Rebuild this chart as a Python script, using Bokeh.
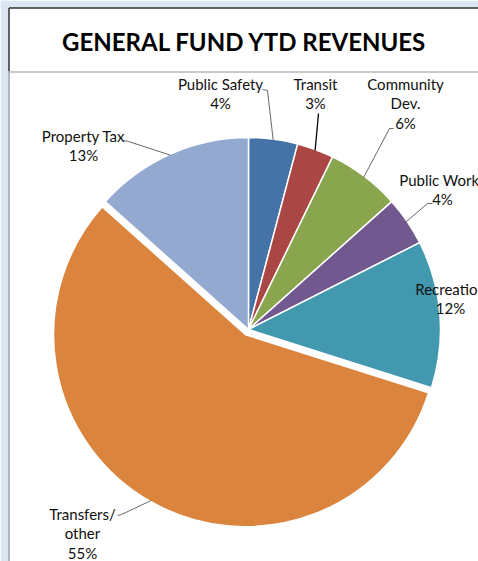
import math
from bokeh.plotting import figure
from bokeh.models import Range1d
from bokeh.embed import file_html
from bokeh.resources import INLINE
from bokeh.core.properties import value

# ---- data ----
title = "GENERAL FUND YTD REVENUES"
categories = ["Public Safety", "Transit", "Community Dev.", "Public Works",
              "Recreation", "Transfers/ other", "Property Tax"]
label_lines = [["Public Safety"], ["Transit"], ["Community", "Dev."],
               ["Public Works"], ["Recreation"], ["Transfers/", "other"],
               ["Property Tax"]]
percent = [4, 3, 6, 4, 12, 55, 13]
colors = ["#4572a7", "#aa4643", "#89a54e", "#71588f", "#4198af", "#db843d", "#93a9cf"]

# ---- layout (pixels, y measured from top) ----
W, H = 478, 561
def Y(py):
    return H - py

CX, CY, R = 248, 329, 192
EXPLODE = [0, 0, 0, 0, 0, 6, 0]
# label anchor: centre x, first line centre y
label_pos = [(220, 83), (315, 83), (405, 83), (442, 179), (450, 288), (82, 513), (83, 135)]
# leader line start points (pixels), None for no leader
leader_start = [[(262, 89), (267, 90)], [(318, 113)], [(393, 128), (389, 128)],
                [(432, 203), (427, 203)], None, [(117, 515), (121, 514)],
                [(123, 140), (128, 141)]]
LINE_H = 19.5
FONT = "Lato"

p = figure(width=W, height=H, x_range=Range1d(0, W), y_range=Range1d(0, H),
           output_backend="svg", toolbar_location=None, min_border=0,
           x_axis_type=None, y_axis_type=None)
p.grid.visible = False
p.outline_line_color = None
p.background_fill_color = "white"
p.border_fill_color = "white"

# outer frame
bg = "#dce6f2"
p.quad(left=[0, 0], right=[8, W], bottom=[0, Y(7)], top=[H, H], fill_color=bg, line_color=None)
p.line(x=[8.5, W], y=[Y(7.5), Y(7.5)], line_color="#2b2f36", line_width=1.5)
p.line(x=[8.5, 8.5], y=[Y(7.5), Y(71)], line_color="#2b2f36", line_width=1.5)
p.line(x=[8.5, 8.5], y=[Y(71), 0], line_color="#9aa0a8", line_width=1.5)
p.line(x=[9, W], y=[Y(71.5), Y(71.5)], line_color="#b8b8b8", line_width=1.5)

# title
p.text(x=[244], y=[Y(41)], text=[title], text_font=value(FONT), text_font_style="bold",
       text_font_size="24px", text_align="center", text_baseline="middle", text_color="#000000")

# pie
total = float(sum(percent))
cum = 0.0
xs, ys, sa, ea, mids = [], [], [], [], []
for i, v in enumerate(percent):
    f0 = cum / total
    f1 = (cum + v) / total
    fm = (f0 + f1) / 2
    cum += v
    a0 = math.pi / 2 - 2 * math.pi * f0
    a1 = math.pi / 2 - 2 * math.pi * f1
    am = math.pi / 2 - 2 * math.pi * fm
    ox = EXPLODE[i] * math.cos(am)
    oy = EXPLODE[i] * math.sin(am)
    xs.append(CX + ox)
    ys.append(Y(CY) + oy)
    sa.append(a0)
    ea.append(a1)
    mids.append(am)

p.wedge(x=xs, y=ys, radius=R, start_angle=sa, end_angle=ea, direction="clock",
        fill_color=colors, line_color="white", line_width=1.5)

# leader lines
for i, st in enumerate(leader_start):
    if st is None:
        continue
    ex = xs[i] + (R - 1) * math.cos(mids[i])
    ey = ys[i] + (R - 1) * math.sin(mids[i])
    lx = [pt[0] for pt in st] + [ex]
    ly = [Y(pt[1]) for pt in st] + [ey]
    if i == 1:
        p.line(x=lx, y=ly, line_color="#000000", line_width=1.3)
    else:
        p.line(x=lx, y=ly, line_color="#404040", line_width=0.8)

# labels
tx, ty, tt = [], [], []
for i, lines in enumerate(label_lines):
    x0, y0 = label_pos[i]
    allines = lines + [f"{percent[i]}%"]
    for k, s in enumerate(allines):
        tx.append(x0)
        ty.append(Y(y0 + k * LINE_H))
        tt.append(s)
p.text(x=tx, y=ty, text=tt, text_font=value(FONT), text_font_size="15px",
       text_align="center", text_baseline="middle", text_color="#111111")

open("out.html", "w").write(file_html(p, INLINE))
